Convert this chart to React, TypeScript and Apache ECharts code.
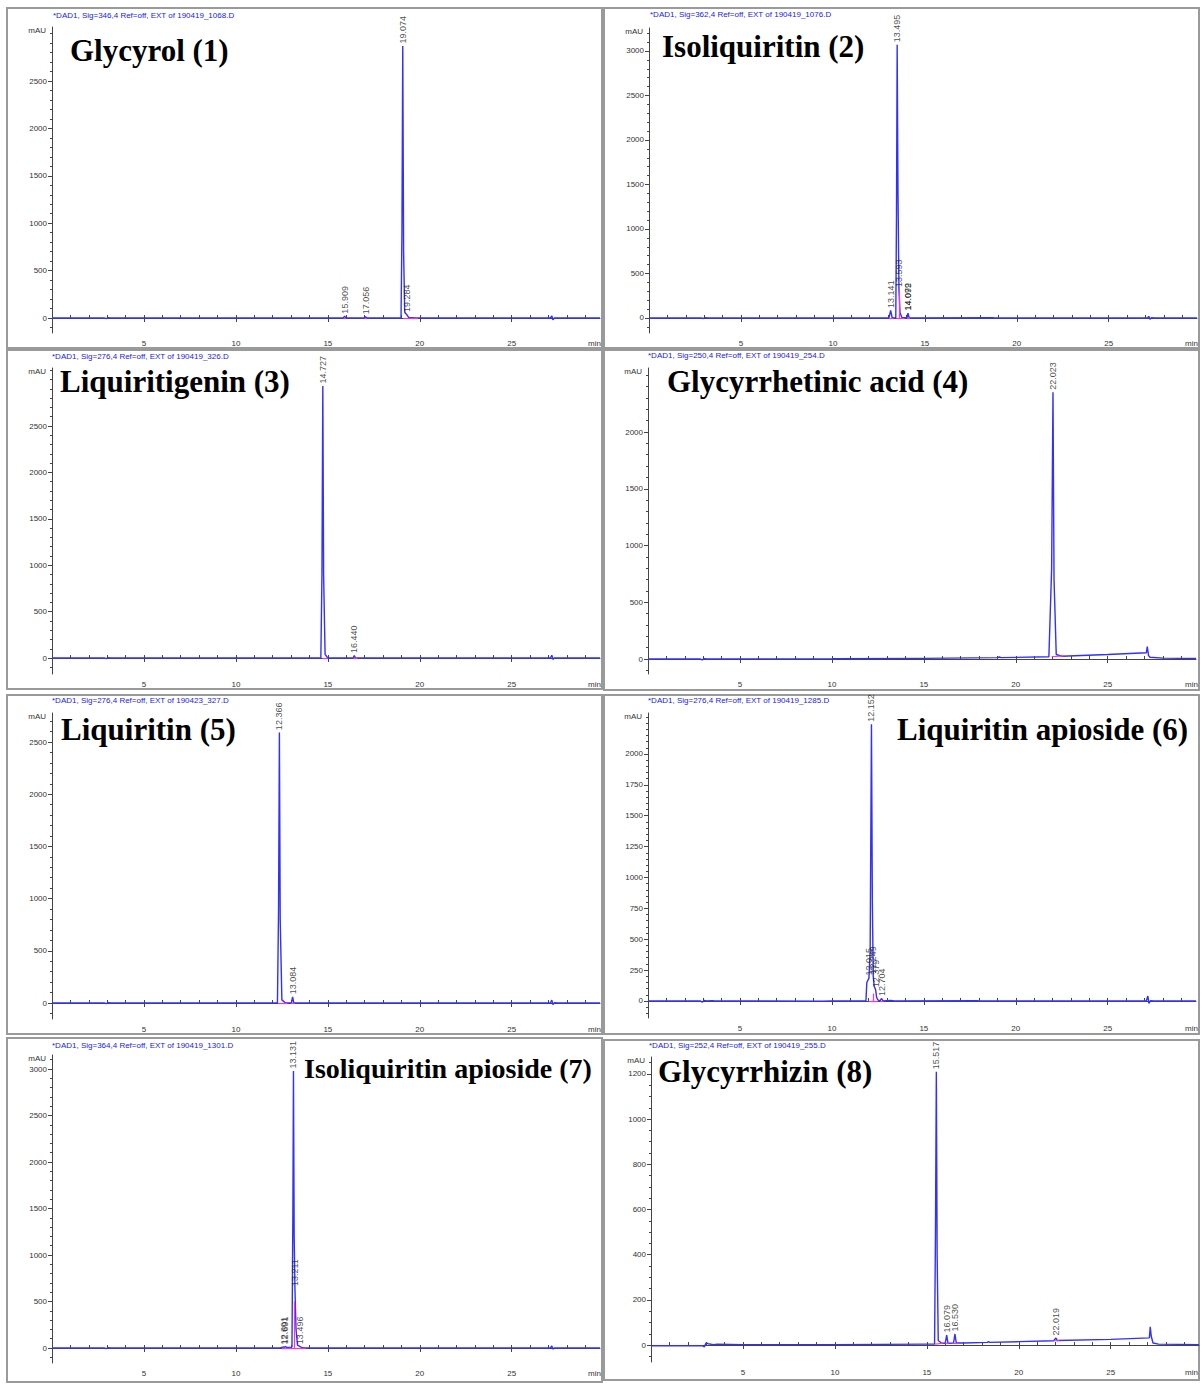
import React, { useEffect, useRef } from "react";
import * as echarts from "echarts";

// ---------- DATA ----------
const headers = [
  "*DAD1, Sig=346,4 Ref=off, EXT of 190419_1068.D",
  "*DAD1, Sig=362,4 Ref=off, EXT of 190419_1076.D",
  "*DAD1, Sig=276,4 Ref=off, EXT of 190419_326.D",
  "*DAD1, Sig=250,4 Ref=off, EXT of 190419_254.D",
  "*DAD1, Sig=276,4 Ref=off, EXT of 190423_327.D",
  "*DAD1, Sig=276,4 Ref=off, EXT of 190419_1285.D",
  "*DAD1, Sig=364,4 Ref=off, EXT of 190419_1301.D",
  "*DAD1, Sig=252,4 Ref=off, EXT of 190419_255.D",
];
const titles = [
  "Glycyrol (1)",
  "Isoliquiritin (2)",
  "Liquiritigenin (3)",
  "Glycyrrhetinic acid (4)",
  "Liquiritin (5)",
  "Liquiritin apioside (6)",
  "Isoliquiritin apioside (7)",
  "Glycyrrhizin (8)",
];

const xMax = 29.8;
const xMajorTicks = [5, 10, 15, 20, 25];
const xMinorTicks = [1, 2, 3, 4, 5, 6, 7, 8, 9, 10, 11, 12, 13, 14, 15, 16, 17, 18, 19, 20, 21, 22, 23, 24, 25, 26, 27, 28, 29];

const yMins = [-158, -169, -172, -132, -153, -138, -161, -75];
const yMaxs = [3070, 3258, 3125, 2564, 2778, 2332, 3151, 1275];
const yMajorTicks = [
  [0, 500, 1000, 1500, 2000, 2500],
  [0, 500, 1000, 1500, 2000, 2500, 3000],
  [0, 500, 1000, 1500, 2000, 2500],
  [0, 500, 1000, 1500, 2000],
  [0, 500, 1000, 1500, 2000, 2500],
  [0, 250, 500, 750, 1000, 1250, 1500, 1750, 2000],
  [0, 500, 1000, 1500, 2000, 2500, 3000],
  [0, 200, 400, 600, 800, 1000, 1200],
];
const yMinorSteps = [100, 100, 100, 100, 100, 50, 100, 50];

// chromatogram traces [time (min), mAU]
const trace1 = [[0,0],[2.85,0],[2.95,-6],[3.05,3],[3.2,0],[3.5,1],[3.6,0],[15.84,0],[15.909,20],[15.98,1],[16.9,0],[17.0,1],[17.056,14],[17.12,0],[18.98,0],[19.03,900],[19.074,2870],[19.12,700],[19.18,60],[19.284,38],[19.4,5],[19.8,0],[27.1,0],[27.18,22],[27.24,-18],[27.32,2],[27.5,0],[29.8,0]];
const trace2 = [[0,0],[2.85,0],[2.95,-6],[3.05,3],[3.2,0],[13.05,0],[13.141,85],[13.22,5],[13.3,0],[13.42,0],[13.46,1200],[13.495,3070],[13.54,1400],[13.593,320],[13.65,60],[13.75,5],[14.03,0],[14.085,55],[14.15,0],[18.7,2],[18.8,0],[27.1,0],[27.18,18],[27.24,-15],[27.32,2],[27.5,0],[29.8,0]];
const trace3 = [[0,0],[2.85,0],[2.95,-6],[3.05,3],[3.2,0],[14.62,0],[14.68,900],[14.727,2930],[14.77,900],[14.85,40],[15.0,0],[16.38,0],[16.44,28],[16.5,0],[27.1,0],[27.18,30],[27.24,-15],[27.32,2],[27.5,0],[29.8,0]];
const trace4 = [[0,0],[2.85,0],[2.95,-8],[3.05,3],[3.2,0],[10,2],[15,6],[19,12],[19.1,18],[19.2,12],[21.8,20],[21.95,800],[22.023,2350],[22.08,700],[22.2,40],[22.5,25],[25,40],[27.1,55],[27.15,110],[27.22,30],[27.3,15],[28,8],[29.8,5]];
const trace5 = [[0,0],[2.85,0],[2.95,-6],[3.05,3],[3.2,0],[12.26,0],[12.32,900],[12.366,2590],[12.41,800],[12.5,30],[12.7,0],[13.02,0],[13.084,60],[13.15,0],[27.1,0],[27.18,28],[27.24,-15],[27.32,2],[27.5,0],[29.8,0]];
const trace6 = [[0,0],[2.85,0],[2.95,-10],[3.05,4],[3.2,0],[3.5,3],[3.6,0],[9.5,-2],[10,0],[11.85,0],[11.9,150],[12.015,185],[12.08,400],[12.152,2240],[12.2,800],[12.249,200],[12.3,120],[12.379,90],[12.43,30],[12.5,8],[12.62,0],[12.704,20],[12.78,0],[13.2,4],[13.4,0],[17.9,2],[18,0],[27.1,0],[27.18,40],[27.24,-20],[27.32,2],[27.5,0],[29.8,0]];
const trace7 = [[0,0],[2.85,0],[2.95,-6],[3.05,3],[3.2,0],[12.4,0],[12.601,12],[12.65,8],[12.691,15],[12.8,5],[13.05,10],[13.1,1500],[13.131,2980],[13.17,1200],[13.211,640],[13.27,200],[13.35,30],[13.496,15],[13.6,3],[13.8,0],[18.7,1],[18.8,0],[27.1,0],[27.18,22],[27.24,-12],[27.32,2],[27.5,0],[29.8,0]];
const trace8 = [[0,-3],[2.8,-3],[2.9,-8],[3.0,10],[3.1,6],[3.4,2],[3.6,4],[5,2],[10,2],[15,4],[15.42,4],[15.47,500],[15.517,1210],[15.56,400],[15.62,20],[15.8,8],[16.0,8],[16.079,44],[16.15,8],[16.45,9],[16.53,49],[16.6,9],[17,9],[18.3,12],[18.35,16],[18.4,12],[20,15],[21.9,19],[22.019,31],[22.1,20],[25,25],[27.1,32],[27.15,81],[27.2,40],[27.3,9],[27.6,4],[29.8,2]];

// labelled peaks [time, apex mAU, label]
const peaks1 = [[15.909, 20, "15.909"], [17.056, 14, "17.056"], [19.074, 2870, "19.074"], [19.284, 38, "19.284"]];
const peaks2 = [[13.141, 85, "13.141"], [13.495, 3070, "13.495"], [13.593, 320, "13.593"], [14.079, 55, "14.079"], [14.092, 55, "14.092"]];
const peaks3 = [[14.727, 2930, "14.727"], [16.44, 28, "16.440"]];
const peaks4 = [[22.023, 2350, "22.023"]];
const peaks5 = [[12.366, 2590, "12.366"], [13.084, 60, "13.084"]];
const peaks6 = [[12.015, 185, "12.015"], [12.152, 2240, "12.152"], [12.249, 200, "12.249"], [12.379, 90, "12.379"], [12.704, 20, "12.704"]];
const peaks7 = [[12.601, 12, "12.601"], [12.691, 15, "12.691"], [13.131, 2980, "13.131"], [13.211, 640, "13.211"], [13.496, 15, "13.496"]];
const peaks8 = [[15.517, 1210, "15.517"], [16.079, 44, "16.079"], [16.53, 49, "16.530"], [22.019, 31, "22.019"]];

// integration baselines [t1, y1, t2, y2]
const base1 = [[15.85, 0, 15.98, 0], [17.0, 0, 17.12, 0], [19.1, 0, 19.9, 0]];
const base2 = [[13.05, 0, 13.3, 0], [13.45, 0, 13.9, 0], [13.593, 0, 13.593, 300], [14.03, 0, 14.2, 0]];
const base3 = [[14.7, 0, 15.0, 0], [16.38, 0, 16.6, 0]];
const base4 = [[21.95, 20, 22.6, 28]];
const base5 = [[12.3, 0, 12.8, 0], [13.0, 0, 13.2, 0]];
const base6 = [[12.0, 0, 12.5, 0], [12.249, 0, 12.249, 60], [12.62, 0, 12.8, 0]];
const base7 = [[12.5, 0, 13.8, 0], [13.2, 0, 13.2, 500]];
const base8 = [[15.45, 4, 15.9, 8], [16.0, 8, 16.2, 8], [16.45, 9, 16.7, 9], [21.9, 19, 22.2, 20]];

const traces = [trace1, trace2, trace3, trace4, trace5, trace6, trace7, trace8];
const peaks = [peaks1, peaks2, peaks3, peaks4, peaks5, peaks6, peaks7, peaks8];
const bases = [base1, base2, base3, base4, base5, base6, base7, base8];

// ---------- LAYOUT ----------
const boxes = [[7, 8, 595, 340], [604, 8, 595, 340], [7, 350, 595, 339], [604, 350, 595, 340], [7, 695, 595, 339], [604, 695, 595, 339], [7, 1038, 595, 344], [604, 1040, 595, 340]];
const grids = [[52, 27, 548, 306], [649, 28, 548, 305], [52, 368, 548, 306], [648, 368, 548, 306], [52, 713, 548, 306], [648, 713, 548, 305], [52, 1055, 548, 308], [651, 1057, 548, 305]];
const titlePos = [[70, 50], [662, 46], [60, 381], [667, 381], [61, 729], [897, 729], [304, 1068], [658, 1071]];
const titleSizes = [31, 31, 31, 31, 31, 31, 28, 31];
const headerPos = [[53, 15], [650, 14], [52, 356], [648, 355], [52, 700], [648, 700], [52, 1045], [649, 1045]];

const BLUE = "#3030ff";
const AXIS = "#444";

function minorValues(min: number, max: number, step: number) {
  const out: number[] = [];
  for (let v = Math.ceil(min / step) * step; v <= max; v += step) out.push(v);
  return out;
}

function buildOption() {
  const grid: any[] = [];
  const xAxis: any[] = [];
  const yAxis: any[] = [];
  const series: any[] = [];
  const graphic: any[] = [];

  for (let i = 0; i < 8; i++) {
    const [gl, gt, gw, gh] = grids[i];
    grid.push({ left: gl, top: gt, width: gw, height: gh, containLabel: false });

    xAxis.push({
      type: "value", gridIndex: i, min: 0, max: xMax,
      axisLine: { show: true, lineStyle: { color: AXIS, width: 1 } },
      axisTick: { show: true, length: 4, customValues: xMajorTicks, lineStyle: { color: AXIS } },
      axisLabel: { show: true, customValues: xMajorTicks, fontSize: 8, color: "#333", margin: 6, fontFamily: "Liberation Sans", formatter: (v: number) => String(v) },
      splitLine: { show: false },
    });
    xAxis.push({
      type: "value", gridIndex: i, min: 0, max: xMax,
      axisLine: { show: false },
      axisTick: { show: true, length: 3, customValues: xMinorTicks, lineStyle: { color: AXIS } },
      axisLabel: { show: false },
      splitLine: { show: false },
    });
    yAxis.push({
      type: "value", gridIndex: i, min: yMins[i], max: yMaxs[i], position: "left",
      axisLine: { show: true, lineStyle: { color: AXIS, width: 1 } },
      axisTick: { show: true, length: 4, customValues: yMajorTicks[i], lineStyle: { color: AXIS } },
      axisLabel: { show: true, customValues: yMajorTicks[i], fontSize: 8, color: "#333", margin: 5, fontFamily: "Liberation Sans", formatter: (v: number) => String(v) },
      splitLine: { show: false },
    });
    yAxis.push({
      type: "value", gridIndex: i, min: yMins[i], max: yMaxs[i], position: "left", offset: 0,
      axisLine: { show: false },
      axisTick: { show: true, length: 2, customValues: minorValues(yMins[i], yMaxs[i], yMinorSteps[i]), lineStyle: { color: AXIS } },
      axisLabel: { show: false },
      splitLine: { show: false },
    });

    series.push({
      type: "line", xAxisIndex: 2 * i, yAxisIndex: 2 * i,
      data: traces[i], symbol: "none", showSymbol: false,
      lineStyle: { color: BLUE, width: 1.4 }, z: 3,
      markLine: {
        silent: true, symbol: ["none", "none"], label: { show: false },
        lineStyle: { color: "#ff33cc", width: 1.2, type: "solid" },
        data: bases[i].map((b) => [{ coord: [b[0], b[1]] }, { coord: [b[2], b[3]] }]),
      },
    });
    series.push({
      type: "scatter", xAxisIndex: 2 * i, yAxisIndex: 2 * i,
      data: peaks[i], symbolSize: 1, itemStyle: { color: "rgba(0,0,0,0)" }, z: 4,
      label: {
        show: true, position: "top", distance: 2, rotate: 90, align: "left", verticalAlign: "middle",
        formatter: (p: any) => p.value[2], fontSize: 9, color: "#1a1a1a", fontFamily: "Liberation Sans",
      },
    });

    const [bx, by, bw, bh] = boxes[i];
    graphic.push({ type: "rect", shape: { x: bx, y: by, width: bw, height: bh }, style: { fill: "none", stroke: "#9a9a9a", lineWidth: 2 }, z: 0 });
    graphic.push({
      type: "text", x: headerPos[i][0], y: headerPos[i][1],
      style: { text: headers[i], fill: "#2020f0", font: '8px "Liberation Sans"', textAlign: "left", align: "left", textVerticalAlign: "middle", verticalAlign: "middle" },
    });
    graphic.push({
      type: "text", x: titlePos[i][0], y: titlePos[i][1],
      style: { text: titles[i], fill: "#000", font: `bold ${titleSizes[i]}px "Liberation Serif"`, textAlign: "left", align: "left", textVerticalAlign: "middle", verticalAlign: "middle" },
    });
    graphic.push({
      type: "text", x: gl - 6, y: gt + 3,
      style: { text: "mAU", fill: "#333", font: '8px "Liberation Sans"', textAlign: "right", align: "right", textVerticalAlign: "middle", verticalAlign: "middle" },
    });
    graphic.push({
      type: "text", x: bx + bw - 1, y: gt + gh + 10,
      style: { text: "min", fill: "#333", font: '8px "Liberation Sans"', textAlign: "right", align: "right", textVerticalAlign: "middle", verticalAlign: "middle" },
    });
  }

  return { animation: false, backgroundColor: "#fff", grid, xAxis, yAxis, series, graphic };
}

export default function App() {
  const ref = useRef<HTMLDivElement>(null);
  useEffect(() => {
    document.body.style.margin = "0";
    const chart = echarts.init(ref.current!, null, { renderer: "svg" });
    chart.setOption(buildOption() as any);
    return () => chart.dispose();
  }, []);
  return <div ref={ref} style={{ width: 1203, height: 1387 }} />;
}
